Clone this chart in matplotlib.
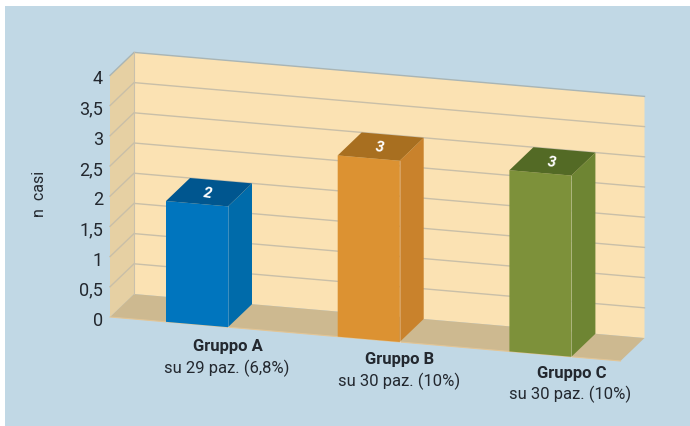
import matplotlib
matplotlib.use("Agg")
import matplotlib.pyplot as plt
from matplotlib.patches import Polygon

plt.rcParams['font.family'] = ['Roboto', 'DejaVu Sans']

categories = ["Gruppo A", "Gruppo B", "Gruppo C"]
subtitles = ["su 29 paz. (6,8%)", "su 30 paz. (10%)", "su 30 paz. (10%)"]
values = [2, 3, 3]
ticks = [0, 0.5, 1, 1.5, 2, 2.5, 3, 3.5, 4]
tick_labels = ["0", "0,5", "1", "1,5", "2", "2,5", "3", "3,5", "4"]
front = ["#0075BE", "#DC9232", "#7D913A"]
side = ["#006BAA", "#C9822C", "#6E8533"]
top = ["#00568F", "#A86F20", "#536A25"]

BG, WALL, LWALL, FLOOR, GRID = "#C1D8E5", "#FBE2B3", "#E6D0A3", "#CDB990", "#C9BFA8"
TXT = "#23282F"


def P(u, v, d):
    """Oblique projection: u along the floor (0-1), v value, d depth (0-1)."""
    return (110 + 510.5 * u + 24 * d, 318 + 44 * u - 23 * d - 60.4 * v)


def cat_u(i, off=0.0):
    return (197 + 171.7 * i + off - 110) / 510.5


fig = plt.figure(figsize=(6.9, 4.27), dpi=100, facecolor="white")
ax = fig.add_axes([0, 0, 1, 1])
ax.set_xlim(0, 690)
ax.set_ylim(427, 0)
ax.axis("off")


def poly(pts, c, z=1):
    ax.add_patch(Polygon(pts, closed=True, facecolor=c, edgecolor="none", linewidth=0, zorder=z))


poly([(5, 7), (690, 7), (690, 427), (5, 427)], BG, 0)
vmax = ticks[-1]
poly([P(0, 0, 1), P(1, 0, 1), P(1, vmax, 1), P(0, vmax, 1)], WALL)
poly([P(0, 0, 0), P(0, 0, 1), P(0, vmax, 1), P(0, vmax, 0)], LWALL)
poly([P(0, 0, 0), P(1, 0, 0), P(1, 0, 1), P(0, 0, 1)], FLOOR)

for t, lab in zip(ticks, tick_labels):
    if t > 0:
        c = "#A9B5B5" if t == vmax else GRID
        ax.plot(*zip(P(0, t, 0), P(0, t, 1), P(1, t, 1)), color=c, lw=1, zorder=2,
                solid_joinstyle="miter")
    x, y = P(0, t, 0)
    ax.text(x - 7, y + 3, lab, ha="right", va="center", fontsize=13, color=TXT, zorder=6)
ax.plot(*zip(P(0, 0, 1), P(0, vmax, 1)), color="#C9C0AC", lw=0.8, zorder=2)
ax.plot(*zip(P(0, 0, 0), P(1, 0, 0)), color="#E3C595", lw=0.8, zorder=2)

half = 31
for i, v in enumerate(values):
    a, b = cat_u(i, -half), cat_u(i, half)
    poly([P(a, 0, 0), P(b, 0, 0), P(b, v, 0), P(a, v, 0)], front[i], 3)
    poly([P(b, 0, 0), P(b, 0, 1), P(b, v, 1), P(b, v, 0)], side[i], 3)
    poly([P(a, v, 0), P(b, v, 0), P(b, v, 1), P(a, v, 1)], top[i], 3)
    ax.plot(*zip(P(b, 0, 0), P(b, v, 0)), color="white", alpha=0.25, lw=0.7, zorder=4)
    cx, cy = P(cat_u(i), v, 0.5)
    ax.text(cx - 1.2, cy, str(v), color="white", fontsize=11, fontweight="bold",
            fontstyle="italic", ha="center", va="center", zorder=5, rotation=-8)
    fx, fy = P(b, 0, 0)
    drift = 1.5 * i
    ax.text(fx, fy + 18.5 - drift, categories[i], ha="center", va="center", fontsize=12,
            fontweight="bold", color=TXT, zorder=6)
    ax.text(fx - 1, fy + 40 - drift, subtitles[i], ha="center", va="center", fontsize=12,
            color=TXT, zorder=6)

ax.text(40, 193.5, "n  casi", rotation=90, ha="center", va="center", fontsize=11.5, color=TXT)

fig.savefig("out.png", dpi=100, facecolor="white")
